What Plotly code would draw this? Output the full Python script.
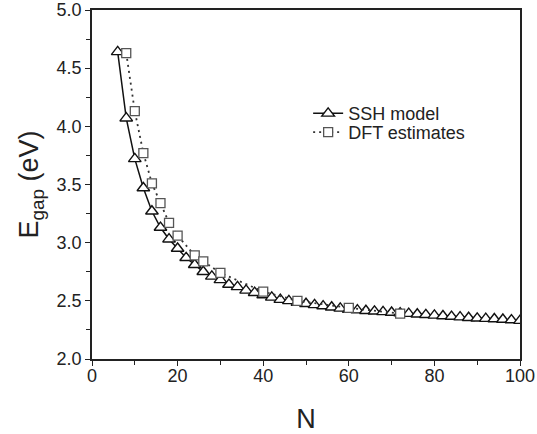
import plotly.graph_objects as go

# SSH model (triangles, solid line)
ssh_n = list(range(6, 101, 2))
ssh_e = [4.64, 4.07, 3.72, 3.47, 3.27, 3.13, 3.03, 2.95, 2.87, 2.81,
         2.75, 2.71, 2.68, 2.64, 2.62, 2.59, 2.57, 2.55, 2.53, 2.51,
         2.50, 2.485, 2.475, 2.465, 2.455, 2.445, 2.435, 2.425, 2.42, 2.415,
         2.41, 2.405, 2.40, 2.395, 2.39, 2.385, 2.38, 2.375, 2.37, 2.365,
         2.36, 2.355, 2.35, 2.347, 2.344, 2.34, 2.335, 2.33]

# DFT estimates (squares, dotted line)
dft_n = [8, 10, 12, 14, 16, 18, 20, 24, 26, 30, 40, 48, 60, 72]
dft_e = [4.63, 4.13, 3.77, 3.51, 3.34, 3.17, 3.06, 2.89, 2.84, 2.74, 2.58, 2.50, 2.44, 2.39]

x_ticks = [0, 20, 40, 60, 80, 100]
y_ticks = [2.0, 2.5, 3.0, 3.5, 4.0, 4.5, 5.0]

FONT = "Liberation Sans, Arial, sans-serif"

fig = go.Figure()
fig.add_trace(go.Scatter(
    x=ssh_n, y=ssh_e, name="SSH model", mode="lines+markers",
    line=dict(color="#111111", width=1.5),
    marker=dict(symbol="triangle-up", size=11, color="white",
                line=dict(color="#111111", width=1.4)),
    legend="legend",
))
fig.add_trace(go.Scatter(
    x=dft_n, y=dft_e, name="DFT estimates", mode="lines+markers",
    line=dict(color="#333333", width=1.8, dash="2px,4px"),
    marker=dict(symbol="square", size=9, color="white",
                line=dict(color="#555555", width=1.3)),
    legend="legend2",
))

axis_common = dict(
    showline=True, linecolor="#222222", linewidth=1.5, mirror=True,
    ticks="outside", ticklen=5, tickwidth=1.3, tickcolor="#222222",
    showgrid=False, zeroline=False, automargin=False,
    tickfont=dict(family=FONT, size=18, color="#222222"),
)

fig.update_xaxes(
    range=[0, 100], tickvals=x_ticks, ticktext=[str(v) for v in x_ticks],
    minor=dict(ticks="outside", ticklen=4, tickwidth=1.2, tickcolor="#222222", dtick=10),
    title=dict(text="N", font=dict(family=FONT, size=27, color="#222222"), standoff=24),
    ticklabelstandoff=-5,
    **axis_common,
)
fig.update_yaxes(
    range=[2.0, 5.0], tickvals=y_ticks, ticktext=[f"{v:.1f}" for v in y_ticks],
    minor=dict(ticks="outside", ticklen=4, tickwidth=1.2, tickcolor="#222222", dtick=0.25),
    title=dict(text="E<sub>gap</sub> (eV)", font=dict(family=FONT, size=27, color="#222222"), standoff=10),
    **axis_common,
)

legend_common = dict(
    xanchor="left", yanchor="top",
    font=dict(family=FONT, size=18, color="#222222"),
    bgcolor="rgba(0,0,0,0)", itemwidth=30,
)

fig.update_layout(
    width=537, height=434,
    margin=dict(l=92, r=17, t=10, b=75),
    paper_bgcolor="white", plot_bgcolor="white",
    showlegend=True,
    legend=dict(x=0.505, y=0.756, **legend_common),
    legend2=dict(x=0.505, y=0.702, **legend_common),
)

fig.write_html("out.html")
